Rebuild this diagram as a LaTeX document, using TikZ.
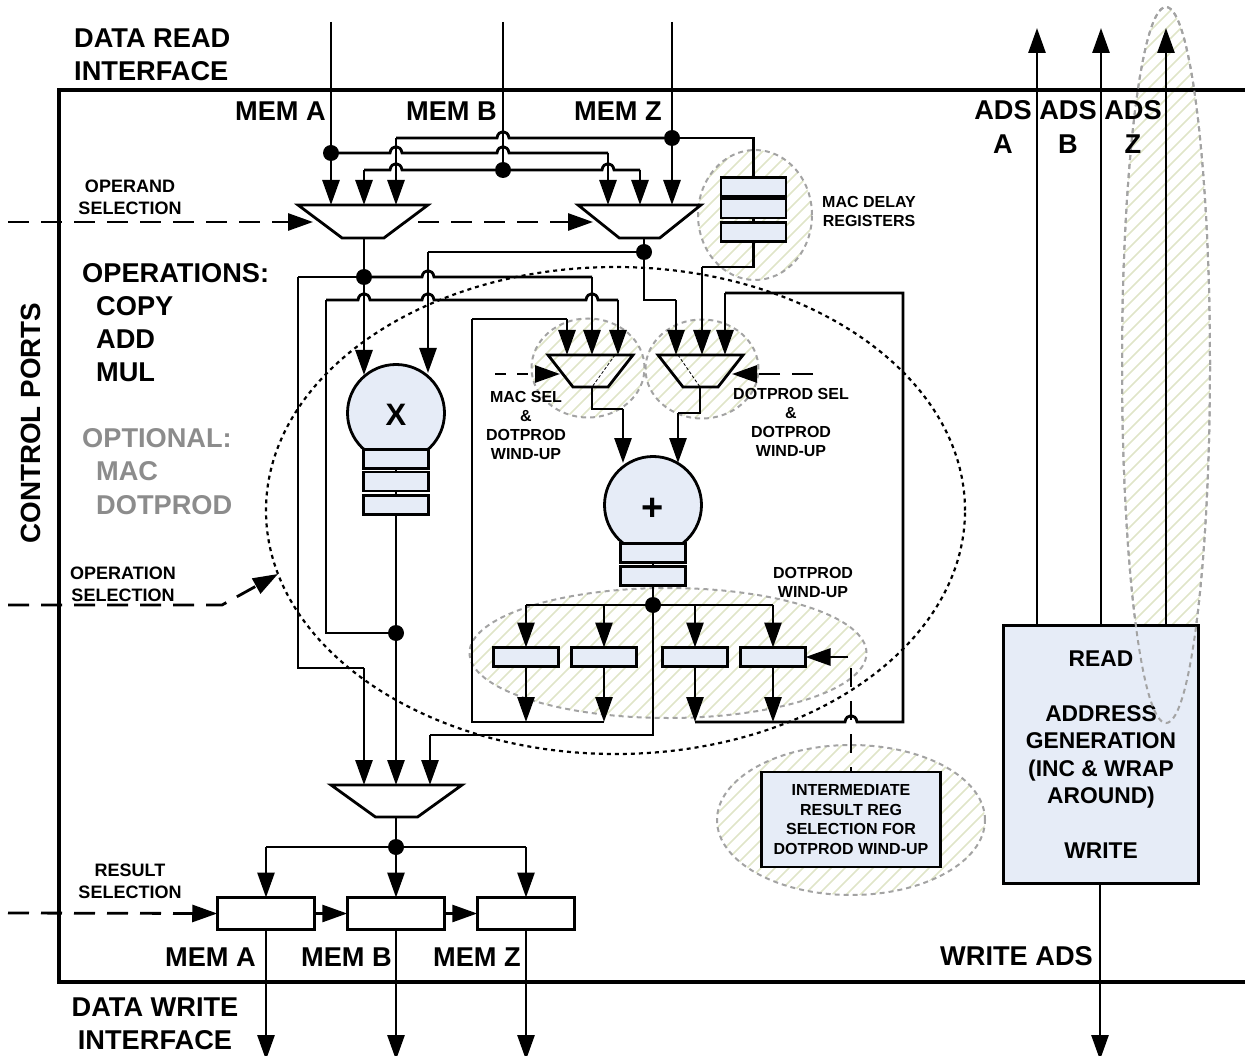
\documentclass[tikz,border=0pt]{standalone}
\usepackage{fontspec}
\setmainfont{Liberation Sans}
\usetikzlibrary{arrows.meta,shapes.geometric}
\definecolor{regblue}{HTML}{E6ECF7}
\definecolor{hatchc}{HTML}{E0E5C8}
\definecolor{ringc}{HTML}{A3A3A3}
\definecolor{optgray}{HTML}{8C8C8C}
\def\hopat#1#2{-- (#1-6,#2) .. controls (#1-5,#2-8.5) and (#1+5,#2-8.5) .. (#1+6,#2)}
\tikzset{
  wire/.style={line width=2.8pt},
  arr/.style={wire,-{Triangle[length=25pt,width=17pt]}},
  ctl/.style={line width=2.8pt,dash pattern=on 21pt off 12pt},
  ctlarr/.style={ctl,-{Triangle[length=25pt,width=17pt]}},
  frame/.style={line width=4.5pt,line cap=round},
  dot/.style={circle,fill=black,inner sep=0pt,minimum size=16pt},
  reg/.style={draw,line width=2.8pt,fill=regblue,inner sep=0pt,outer sep=0pt,minimum width=65pt,minimum height=19pt},
  memreg/.style={draw,line width=2.8pt,fill=white,inner sep=0pt,outer sep=0pt,minimum width=97.5pt,minimum height=32pt},
  alu/.style={draw,circle,line width=2.8pt,fill=regblue,minimum size=97pt,inner sep=0pt,outer sep=0pt},
  mux/.style={draw,line width=2.8pt,trapezium,shape border rotate=180,trapezium stretches=true,inner sep=0pt,outer sep=0pt,minimum height=33pt},
  ring/.style={draw=ringc,line width=2pt,dash pattern=on 5pt off 4pt,ellipse,inner sep=0pt,outer sep=0pt},
  hatched/.style={ring,path picture={
    \foreach \d in {-420,-406,...,420}
      \draw[solid,hatchc,line width=1.7pt]
        ([shift={(\d-420,420)}]path picture bounding box.center) --
        ([shift={(\d+420,-420)}]path picture bounding box.center);}},
  bigt/.style={inner sep=0pt,align=center,font=\fontsize{27.2}{33}\selectfont\bfseries},
  midt/.style={inner sep=0pt,align=center,font=\fontsize{18}{22}\selectfont\bfseries},
  smallt/.style={inner sep=0pt,align=center,font=\fontsize{16}{19}\selectfont\bfseries},
  thinsplit/.style={line width=.8pt,dash pattern=on 3pt off 2pt},
}
\begin{document}
\begin{tikzpicture}[x=1pt,y=-1pt]
\useasboundingbox (0,0) rectangle (1245,1056);

% hatched regions
\node[hatched,minimum width=114pt,minimum height=130pt] (zdelay) at (755,215) {};
\node[hatched,minimum width=113pt,minimum height=99pt] (zmac) at (588,368) {};
\node[hatched,minimum width=113pt,minimum height=99pt] (zdot) at (702,369) {};
\node[hatched,minimum width=397pt,minimum height=130pt] (zwind) at (668,653) {};
\node[hatched,minimum width=268pt,minimum height=150pt] (zinter) at (851,820) {};
\node[hatched,minimum width=88pt,minimum height=716pt] (zads) at (1166,365) {};

% frame
\coordinate (ftr) at (1245,90);
\coordinate (ftl) at (59,90);
\coordinate (fbl) at (59,982);
\coordinate (fbr) at (1245,982);
\draw[frame] (ftr) -- (ftl) -- (fbl) -- (fbr);

% blocks
\node[reg,minimum width=195pt,minimum height=258pt,align=center,font=\fontsize{22.8}{27.5}\selectfont\bfseries] (agen) at (1101,754.5)
  {READ\\[27.5pt]ADDRESS\\GENERATION\\(INC \& WRAP\\AROUND)\\[27.5pt]WRITE};
\node[ring,minimum width=88pt,minimum height=716pt] (zadsedge) at (1166,365) {};
\node[reg,minimum width=179pt,minimum height=95pt,align=center,font=\fontsize{16}{19.4}\selectfont\bfseries] (inter) at (851,819.5)
  {INTERMEDIATE\\RESULT REG\\SELECTION FOR\\DOTPROD WIND-UP};

\node[alu] (mul) at (396,413) {};
\node[alu] (add) at (653,505) {};
\node[reg] (dr1) at (753.5,187) {};
\node[reg] (dr2) at (753.5,208.5) {};
\node[reg] (dr3) at (753.5,232) {};
\node[reg] (mr1) at (396,459) {};
\node[reg] (mr2) at (396,481.5) {};
\node[reg] (mr3) at (396,505) {};
\node[reg] (ar1) at (653,553) {};
\node[reg] (ar2) at (653,576) {};
\node[reg] (w1) at (526,657) {};
\node[reg] (w2) at (604,657) {};
\node[reg] (w3) at (695,657) {};
\node[reg] (w4) at (773,657) {};
\node[memreg] (ra) at (266,913.5) {};
\node[memreg] (rb) at (396,913.5) {};
\node[memreg] (rz) at (526,913.5) {};
\node[font=\fontsize{31}{31}\selectfont\bfseries,inner sep=0pt] (mulx) at (396,415) {X};
\node[font=\fontsize{38}{38}\selectfont\bfseries,inner sep=0pt] (addp) at (653,509) {+};

% muxes
\node[mux,minimum width=130pt,trapezium left angle=45,trapezium right angle=45] (m1) at (363,221.5) {\phantom{x}};
\node[mux,minimum width=123pt,trapezium left angle=46,trapezium right angle=46] (m2) at (639.5,221.5) {\phantom{x}};
\node[mux,minimum width=85pt,minimum height=32pt,trapezium left angle=56,trapezium right angle=56] (m3) at (590.5,371) {\phantom{x}};
\node[mux,minimum width=85pt,minimum height=32pt,trapezium left angle=56,trapezium right angle=56] (m4) at (700.5,371) {\phantom{x}};
\node[mux,minimum width=131pt,minimum height=32pt,trapezium left angle=45,trapezium right angle=45] (m5) at (396.5,801) {\phantom{x}};

% junctions and ports
\node[dot] (ja) at (331,153) {};
\node[dot] (jb) at (503,170) {};
\node[dot] (jz) at (672,138) {};
\node[dot] (jm2) at (644,252) {};
\node[dot] (jm1) at (364,277) {};
\node[dot] (jmul) at (396,633) {};
\node[dot] (jadd) at (653,605) {};
\node[dot] (jres) at (396,847) {};

\coordinate (ina) at (331,22);
\coordinate (inb) at (503,22);
\coordinate (inz) at (672,22);
\coordinate (m1a) at (331,205);
\coordinate (m1b) at (364,205);
\coordinate (m1c) at (396,205);
\coordinate (m2a) at (608,205);
\coordinate (m2b) at (640,205);
\coordinate (m2c) at (672,205);
\coordinate (m3a) at (567,355);
\coordinate (m3b) at (592,355);
\coordinate (m3c) at (618,355);
\coordinate (m4a) at (676,355);
\coordinate (m4b) at (702,355);
\coordinate (m4c) at (725,355);
\coordinate (m5a) at (364,785);
\coordinate (m5b) at (396,785);
\coordinate (m5c) at (430,785);
\coordinate (m1out) at (364,238);
\coordinate (m2out) at (644,238);
\coordinate (m3out) at (592,387);
\coordinate (m4out) at (700,387);
\coordinate (m5out) at (396,817);
\coordinate (t137) at (396,138);
\coordinate (dt) at (753.5,138);
\coordinate (mulin1) at (364,375);
\coordinate (mulin2) at (428,373);
\coordinate (addin1) at (623,463);
\coordinate (addin2) at (678,463);
\coordinate (bus1l) at (298,277);
\coordinate (bus2l) at (326,300);
\coordinate (fbtop) at (472,319);
\coordinate (fbbot) at (472,722);
\coordinate (w1tip) at (526,722);
\coordinate (w2tip) at (604,722);
\coordinate (w3tip) at (695,722);
\coordinate (w4tip) at (773,722);
\coordinate (fbr2) at (903,722);
\coordinate (fbrt) at (903,293);

% input wires
\draw[wire] (ina) -- (ja);
\draw[arr] (ja) -- (m1a);
\draw[wire] (inb) -- (jb);
\draw[wire] (inz) -- (jz);
\draw[arr] (jz) -- (m2c);
\draw[wire] (jz) -- (jz -| dt) -- (dr1.north);
\draw[arr] (t137) -- (m1c);
\draw[wire] (t137) \hopat{503}{138} -- (jz);
\draw[wire] (ja) \hopat{396}{153} \hopat{503}{153} -- (608,153);
\draw[arr] (608,153) -- (m2a);
\draw[arr] (364,170) -- (m1b);
\draw[wire] (364,170) \hopat{396}{170} -- (jb);
\draw[wire] (jb) \hopat{608}{170} -- (640,170);
\draw[arr] (640,170) -- (m2b);
\draw[wire] (dr1.south) -- (dr2.north);
\draw[wire] (dr2.south) -- (dr3.north);
\draw[wire] (dr3.south) -- (753.5,267) -- (702,267);
\draw[arr] (702,267) -- (m4b);

% mux outputs
\draw[wire] (m1out) -- (jm1);
\draw[wire] (m2out) -- (jm2);
\draw[wire] (jm2) -- (428,252);
\draw[arr] (428,252) -- (mulin2);
\draw[wire] (jm2) -- (644,300) -- (676,300);
\draw[arr] (676,300) -- (m4a);
\draw[wire] (bus1l) -- (jm1);
\draw[wire] (jm1) \hopat{428}{277} -- (592,277);
\draw[arr] (592,277) -- (m3b);
\draw[arr] (jm1) -- (mulin1);
\draw[wire] (bus2l) \hopat{364}{300} \hopat{428}{300} \hopat{592}{300} -- (618,300);
\draw[arr] (618,300) -- (m3c);
\draw[wire] (bus2l) |- (jmul);
\draw[wire] (bus1l) -- (298,668) -- (364,668);
\draw[arr] (364,668) -- (m5a);
\draw[wire] (mr1.south) -- (mr2.north);
\draw[wire] (mr2.south) -- (mr3.north);
\draw[wire] (mr3.south) -- (jmul);
\draw[arr] (jmul) -- (m5b);

% adder feeds
\draw[wire] (m3out) -- (592,409) -- (623,409);
\draw[arr] (623,409) -- (addin1);
\draw[wire] (m4out) -- (700,413) -- (678,413);
\draw[arr] (678,413) -- (addin2);
\draw[wire] (ar1.south) -- (ar2.north);
\draw[wire] (ar2.south) -- (jadd);
\draw[wire] (jadd) -- (653,735) -- (430,735);
\draw[arr] (430,735) -- (m5c);
\draw[wire] (w1.north |- jadd) -- (w4.north |- jadd);
\draw[arr] (w1.north |- jadd) -- (w1.north);
\draw[arr] (w2.north |- jadd) -- (w2.north);
\draw[arr] (w3.north |- jadd) -- (w3.north);
\draw[arr] (w4.north |- jadd) -- (w4.north);
\draw[arr] (w1.south) -- (w1tip);
\draw[arr] (w2.south) -- (w2tip);
\draw[arr] (w3.south) -- (w3tip);
\draw[arr] (w4.south) -- (w4tip);
\draw[wire] (fbtop) -- (fbbot) -- (w2tip);
\draw[wire] (fbtop) -- (567,319);
\draw[arr] (567,319) -- (m3a);
\draw[wire] (w3tip) \hopat{851}{722} -- (fbr2) -- (fbrt) -- (725,293);
\draw[arr] (725,293) -- (m4c);

% result path
\draw[wire] (m5out) -- (jres);
\draw[arr] (jres) -- (rb.north);
\draw[wire] (ra.north |- jres) -- (rz.north |- jres);
\draw[arr] (ra.north |- jres) -- (ra.north);
\draw[arr] (rz.north |- jres) -- (rz.north);
\draw[arr] (ra.east) -- (rb.west);
\draw[arr] (rb.east) -- (rz.west);
\coordinate (ora) at (266,1060);
\coordinate (orb) at (396,1060);
\coordinate (orz) at (526,1060);
\draw[arr] (ra.south) -- (ora);
\draw[arr] (rb.south) -- (orb);
\draw[arr] (rz.south) -- (orz);

% address wires
\coordinate (oaa) at (1037,28);
\coordinate (oab) at (1101,28);
\coordinate (oaz) at (1166,28);
\coordinate (owa) at (1100,1060);
\draw[arr] (agen.north -| oaa) -- (oaa);
\draw[arr] (agen.north -| oab) -- (oab);
\draw[arr] (agen.north -| oaz) -- (oaz);
\draw[arr] (agen.south -| owa) -- (owa);

% control dashes
\coordinate (c1) at (8,222);
\coordinate (c1t) at (313,222);
\coordinate (c2) at (418,222);
\coordinate (c2t) at (593,222);
\coordinate (c3) at (8,605);
\coordinate (c3m) at (222,605);
\coordinate (c3t) at (278,574);
\coordinate (c4) at (8,913);
\coordinate (c5) at (495,374);
\coordinate (c5t) at (560,374);
\coordinate (c6) at (813,374);
\coordinate (c6t) at (732,374);
\coordinate (c7) at (851,668);
\coordinate (c8) at (848,657);
\draw[ctlarr] (c1) -- (c1t);
\draw[ctlarr] (c2) -- (c2t);
\draw[ctlarr] (c3) -- (c3m) -- (c3t);
\draw[ctlarr] (c4) -- (ra.west);
\draw[line width=2.8pt,dash pattern=on 11pt off 11pt,-{Triangle[length=25pt,width=17pt]}] (c5) -- (c5t);
\draw[ctlarr] (c6) -- (c6t);
\draw[arr] (c8) -- (w4.east);
\draw[line width=2.8pt,dash pattern=on 19pt off 14pt] (c7) -- (inter.north -| c7);
\draw[thinsplit] (615,355) -- (m3out);
\draw[thinsplit] (678,355) -- (m4out);

% big dotted ellipse
\node[draw,ellipse,line width=2.2pt,dash pattern=on 4pt off 4pt,minimum width=699pt,minimum height=487pt,inner sep=0pt,outer sep=0pt] (opsel) at (615.5,510.5) {};

% labels
\node[bigt,anchor=west] (tdr1) at (74,38) {DATA READ};
\node[bigt,anchor=west] (tdr2) at (74,71) {INTERFACE};
\node[bigt,anchor=east] (tma) at (326,111) {MEM A};
\node[bigt,anchor=east] (tmb) at (497,111) {MEM B};
\node[bigt,anchor=east] (tmz) at (662,111) {MEM Z};
\node[bigt] (tada) at (1003,110) {ADS};
\node[bigt] (taa) at (1003,144) {A};
\node[bigt] (tadb) at (1068,110) {ADS};
\node[bigt] (tab) at (1068,144) {B};
\node[bigt] (tadz) at (1133,110) {ADS};
\node[bigt] (taz) at (1133,144) {Z};
\node[midt] (topnd) at (130,197) {OPERAND\\SELECTION};
\node[midt] (toper) at (123,584) {OPERATION\\SELECTION};
\node[midt] (tres) at (130,881.5) {RESULT\\SELECTION};
\node[bigt,anchor=west] (to0) at (82,273) {OPERATIONS:};
\node[bigt,anchor=west] (to1) at (96,306) {COPY};
\node[bigt,anchor=west] (to2) at (96,339) {ADD};
\node[bigt,anchor=west] (to3) at (96,372) {MUL};
\node[bigt,anchor=west,text=optgray] (to4) at (82,438) {OPTIONAL:};
\node[bigt,anchor=west,text=optgray] (to5) at (96,471) {MAC};
\node[bigt,anchor=west,text=optgray] (to6) at (96,505) {DOTPROD};
\node[bigt,rotate=90,font=\fontsize{27.8}{33}\selectfont\bfseries] (tcp) at (31,423) {CONTROL PORTS};
\node[smallt] (tdelay) at (869,211.5) {MAC DELAY\\REGISTERS};
\node[smallt] (tmac) at (526,425) {MAC SEL\\\&\\DOTPROD\\WIND-UP};
\node[smallt] (tdp) at (791,422.5) {DOTPROD SEL\\\&\\DOTPROD\\WIND-UP};
\node[smallt] (twind) at (813,582) {DOTPROD\\WIND-UP};
\node[bigt,anchor=east] (tba) at (256,957) {MEM A};
\node[bigt,anchor=east] (tbb) at (392,957) {MEM B};
\node[bigt,anchor=east] (tbz) at (521,957) {MEM Z};
\node[bigt,anchor=east] (twads) at (1093,956) {WRITE ADS};
\node[bigt] (tdw1) at (155,1007) {DATA WRITE};
\node[bigt] (tdw2) at (155,1040) {INTERFACE};
\end{tikzpicture}
\end{document}
